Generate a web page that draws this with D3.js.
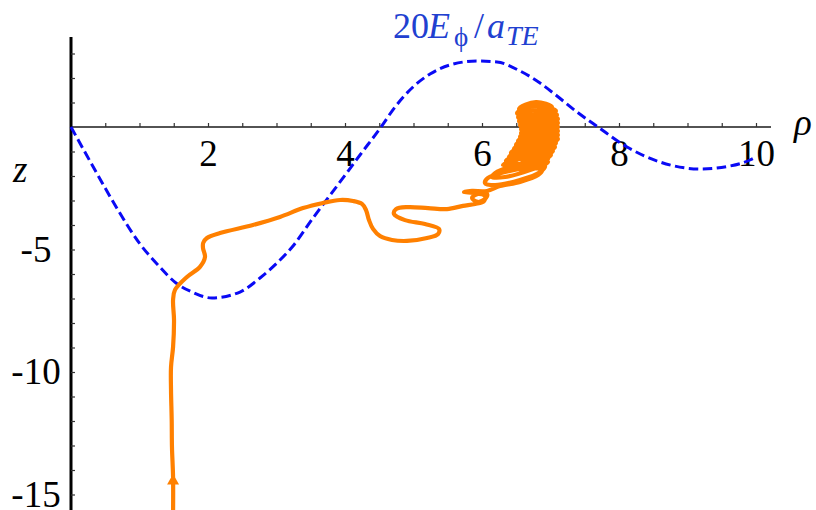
<!DOCTYPE html>
<html><head><meta charset="utf-8">
<script src="https://cdn.jsdelivr.net/npm/d3@7"></script>
<style>html,body{margin:0;padding:0;background:#fff;} svg{display:block;}</style>
</head><body>
<svg id="chart" width="816" height="510"></svg>
<script>
// ---- tick labels ----
const xLabelTicks = [2, 4, 6, 8, 10];
const xMinorTicks = [0.5, 1, 1.5, 2, 2.5, 3, 3.5, 4, 4.5, 5, 5.5, 6, 6.5, 7, 7.5, 8, 8.5, 9, 9.5, 10];
const yLabelTicks = [-5, -10, -15];
const yMinorTicks = [3, 2, 1, -1, -2, -3, -4, -5, -6, -7, -8, -9, -10, -11, -12, -13, -14, -15];

// ---- blue dashed field curve 20 E_phi / a_TE ----
const fieldRho = [0, 0.350, 0.686, 1.007, 1.270, 1.533, 1.766, 2.058, 2.467, 2.759, 3.007, 3.241, 3.533, 3.883, 4.219, 4.526, 4.730, 4.993, 5.241, 5.533, 5.927, 6.219, 6.555, 6.847, 7.095, 7.387, 7.693, 8.117, 8.599, 9.182, 9.620, 9.912, 10.0];
const fieldZ   = [0, -1.755, -3.388, -4.776, -5.633, -6.367, -6.735, -6.980, -6.735, -6.163, -5.551, -4.857, -3.714, -2.408, -1.143, 0, 0.816, 1.633, 2.163, 2.531, 2.694, 2.653, 2.286, 1.796, 1.265, 0.612, 0, -0.816, -1.429, -1.714, -1.592, -1.347, -1.224];

// ---- orange trajectory: rise, drift, small loops ----
const trajRho = [1.49, 1.49, 1.474, 1.47, 1.46, 1.46, 1.49, 1.504, 1.49, 1.518, 1.693, 1.883, 1.956, 1.927, 1.93, 1.985, 2.175, 2.657, 3.051, 3.387, 3.679, 3.927, 4.117, 4.248, 4.307, 4.350, 4.409, 4.511, 4.686, 4.905, 5.197, 5.358, 5.372, 5.168, 4.876, 4.715, 4.745, 4.920, 5.212, 5.489, 5.723, 5.898, 6.029, 6.044, 5.942, 5.854, 5.942, 6.058, 6.073, 5.898, 5.737, 5.854, 6.073, 6.263, 6.555, 6.818, 6.876, 6.701, 6.336, 6.088, 6.044, 6.190, 6.555, 6.847, 6.920, 6.774, 6.409, 6.190, 6.146, 6.336, 6.701, 6.964];
const trajZ = [-15.8, -14.29, -13.06, -11.96, -10.73, -9.80, -8.98, -7.88, -7.06, -6.65, -6.12, -5.71, -5.31, -4.94, -4.73, -4.53, -4.33, -4.00, -3.67, -3.31, -3.10, -2.98, -3.02, -3.14, -3.39, -3.80, -4.16, -4.45, -4.61, -4.65, -4.53, -4.37, -4.16, -3.96, -3.80, -3.55, -3.35, -3.27, -3.31, -3.35, -3.22, -3.14, -3.02, -2.82, -2.73, -2.90, -3.06, -2.90, -2.73, -2.69, -2.65, -2.61, -2.61, -2.41, -2.24, -1.96, -1.76, -1.67, -1.84, -2.08, -2.29, -2.37, -2.16, -1.84, -1.59, -1.47, -1.63, -1.88, -2.04, -2.04, -1.76, -1.43];
// ---- orange trajectory: dense trapped loops near rho ~ 6.8 ----
const loopRho = [
  6.307, 6.606, 6.905, 6.606,
  6.350, 6.657, 6.964, 6.657,
  6.394, 6.701, 7.007, 6.701,
  6.423, 6.730, 7.036, 6.730,
  6.467, 6.766, 7.066, 6.766,
  6.496, 6.788, 7.080, 6.788,
  6.526, 6.810, 7.109, 6.810,
  6.555, 6.832, 7.109, 6.832,
  6.569, 6.839, 7.109, 6.839,
  6.569, 6.839, 7.109, 6.839,
  6.555, 6.832, 7.109, 6.832,
  6.540, 6.825, 7.109, 6.825,
  6.526, 6.810, 7.095, 6.810,
  6.511, 6.796, 7.080, 6.796,
  6.540, 6.788, 7.022, 6.788];
const loopZ = [
  -1.551, -1.265, -1.469, -1.755,
  -1.388, -1.102, -1.306, -1.592,
  -1.224, -0.939, -1.143, -1.429,
  -1.061, -0.776, -0.980, -1.265,
  -0.898, -0.612, -0.816, -1.102,
  -0.735, -0.449, -0.653, -0.939,
  -0.571, -0.286, -0.490, -0.776,
  -0.408, -0.122, -0.327, -0.612,
  -0.245, 0.041, -0.163, -0.449,
  -0.082, 0.204, 0, -0.286,
  0.082, 0.367, 0.163, -0.122,
  0.245, 0.531, 0.327, 0.041,
  0.408, 0.694, 0.490, 0.204,
  0.571, 0.857, 0.653, 0.367,
  0.735, 1.020, 0.816, 0.531];
const arrowRho = 1.49, arrowZ = -14.45;

// ---- layout ----
const svg = d3.select("#chart");
const x = d3.scaleLinear().domain([0, 10]).range([71, 756]);
const y = d3.scaleLinear().domain([0, -15]).range([127, 494.5]);
const serif = "'Liberation Serif','Times New Roman',serif";

// x axis
svg.append("line").attr("x1", x(0)).attr("x2", 771).attr("y1", y(0)).attr("y2", y(0))
  .attr("stroke", "#1a1a1a").attr("stroke-width", 1.6);
const xMinor = d3.axisBottom(x).tickValues(xMinorTicks).tickSizeInner(-4).tickSizeOuter(0).tickFormat("");
const gxm = svg.append("g").attr("transform", `translate(0,${y(0)})`).call(xMinor);
gxm.select(".domain").remove();
gxm.selectAll(".tick line").attr("stroke", "#333").attr("stroke-width", 1.2);
const xLab = d3.axisBottom(x).tickValues(xLabelTicks).tickSize(0).tickPadding(13).tickFormat(d => String(d));
const gxl = svg.append("g").attr("transform", `translate(0,${y(0)})`).call(xLab);
gxl.select(".domain").remove();
gxl.selectAll("text").attr("font-family", serif).attr("font-size", 37).attr("fill", "#000");

// y axis
svg.append("line").attr("x1", x(0)).attr("x2", x(0)).attr("y1", 37).attr("y2", 510)
  .attr("stroke", "#000").attr("stroke-width", 3);
const yMinor = d3.axisLeft(y).tickValues(yMinorTicks).tickSizeInner(-4).tickSizeOuter(0).tickFormat("");
const gym = svg.append("g").attr("transform", `translate(${x(0)},0)`).call(yMinor);
gym.select(".domain").remove();
gym.selectAll(".tick line").attr("stroke", "#333").attr("stroke-width", 1.2);
const yLab = d3.axisLeft(y).tickValues(yLabelTicks).tickSize(0).tickPadding(9).tickFormat(d => "-" + Math.abs(d));
const gyl = svg.append("g").attr("transform", `translate(${x(0)},0)`).call(yLab);
gyl.select(".domain").remove();
gyl.selectAll("text").attr("font-family", serif).attr("font-size", 37).attr("fill", "#000")
  .attr("text-anchor", "middle").attr("x", -35);

// axis names
svg.append("text").attr("x", 13).attr("y", 182).attr("font-family", serif).attr("font-style", "italic")
  .attr("font-size", 37).text("z");
svg.append("text").attr("x", 794).attr("y", 135).attr("font-family", serif).attr("font-style", "italic")
  .attr("font-size", 37).text("ρ");

// blue dashed curve
const fieldData = fieldRho.map((r, i) => [r, fieldZ[i]]);
svg.append("path").datum(fieldData)
  .attr("d", d3.line().x(d => x(d[0])).y(d => y(d[1])).curve(d3.curveMonotoneX))
  .attr("fill", "none").attr("stroke", "#0a0af5").attr("stroke-width", 3)
  .attr("stroke-dasharray", "9.5,4.5");

// title
const t = svg.append("text").attr("y", 38).attr("font-family", serif)
  .attr("font-size", 36).attr("fill", "#2140d0");
t.append("tspan").attr("x", 393).text("20");
t.append("tspan").attr("x", 428).attr("font-style", "italic").text("E");
t.append("tspan").attr("x", 454).attr("font-size", 27).attr("dy", 8).text("ϕ");
t.append("tspan").attr("x", 474).attr("dy", -8).text("/");
t.append("tspan").attr("x", 487).attr("font-style", "italic").text("a");
t.append("tspan").attr("x", 506).attr("font-style", "italic").attr("font-size", 28).attr("dy", 7).text("TE");

// orange trajectory
const trajData = trajRho.map((r, i) => [r, trajZ[i]]).concat(loopRho.map((r, i) => [r, loopZ[i]]));
svg.append("path").datum(trajData)
  .attr("d", d3.line().x(d => x(d[0])).y(d => y(d[1])).curve(d3.curveCatmullRom.alpha(0.5)))
  .attr("fill", "none").attr("stroke", "#ff8000").attr("stroke-width", 4.2)
  .attr("stroke-linejoin", "round").attr("stroke-linecap", "round");
svg.append("path")
  .attr("d", d3.symbol(d3.symbolTriangle, 62)())
  .attr("transform", `translate(${x(arrowRho)},${y(arrowZ)})`)
  .attr("fill", "#ff8000");
</script>
</body></html>
